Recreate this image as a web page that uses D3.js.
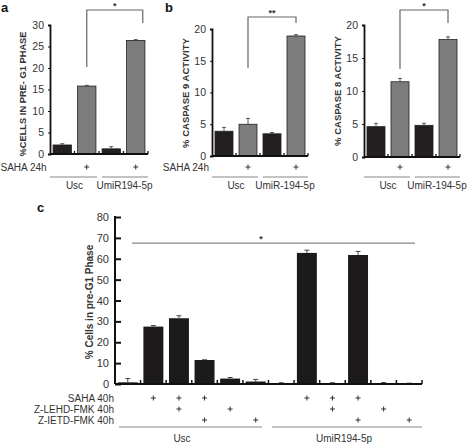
<!DOCTYPE html>
<html><head><meta charset="utf-8">
<script src="https://cdn.jsdelivr.net/npm/d3@7"></script>
<style>body{margin:0;background:#fff}svg{display:block}text{font-family:"Liberation Sans",Arial,sans-serif}</style>
</head><body><svg id="c" width="474" height="445"></svg>
<script>
// ---- data ----
const groupsAB = ["Usc", "Usc", "UmiR", "UmiR"];
const sahaFlags = ["", "+", "", "+"];
const aValues = [2.1, 15.8, 1.2, 26.4];
const aErr = [0.3, 0.15, 0.5, 0.2];
const bValues = [3.9, 5.0, 3.5, 18.9];
const bErr = [0.6, 0.9, 0.2, 0.2];
const c8Values = [4.6, 11.4, 4.8, 17.8];
const c8Err = [0.5, 0.5, 0.3, 0.4];
const aTicks = [0, 5, 10, 15, 20, 25, 30];
const bTicks = [0, 5, 10, 15, 20];

const cCats = ["u1","u2","u3","u4","u5","u6","m1","m2","m3","m4","m5","m6"];
const cValues = [0.8, 27.5, 31.5, 11.5, 2.6, 1.2, 0.2, 62.8, 0.3, 61.8, 0.3, 0.2];
const cErr = [1.8, 0.5, 1.2, 0.1, 0.5, 1.0, 0.4, 1.3, 0.3, 1.7, 0.4, 0.2];
const cSaha = ["", "+", "+", "+", "", "", "", "+", "+", "+", "", ""];
const cLehd = ["", "", "+", "", "+", "", "", "", "+", "", "+", ""];
const cIetd = ["", "", "", "+", "", "+", "", "", "", "+", "", "+"];
const cTicks = [0, 10, 20, 30, 40, 50, 60, 70, 80];

const svg = d3.select("#c");
const FONT = '"Liberation Sans",Arial,sans-serif';

function txt(g, x, y, s, opt = {}) {
  return g.append("text").attr("x", x).attr("y", y).text(s)
    .attr("font-size", opt.size || 10)
    .attr("font-weight", opt.bold ? "bold" : "normal")
    .attr("text-anchor", opt.anchor || "middle")
    .attr("fill", opt.fill || "#222");
}
function plus(g, cx, cy) {
  g.append("path").attr("d", `M${cx - 2.5},${cy}H${cx + 2.5}M${cx},${cy - 2.5}V${cy + 2.5}`)
    .attr("stroke", "#333").attr("stroke-width", 1).attr("fill", "none");
}

function smallPanel(cfg) {
  const g = svg.append("g");
  const x = d3.scaleBand().domain(d3.range(4)).range([cfg.x0, cfg.x1]).paddingInner(0.25).paddingOuter(0.125);
  const y = d3.scaleLinear().domain([0, cfg.max]).range([cfg.yb, cfg.yt]);
  const step = x.step();
  g.selectAll("rect.bar").data(cfg.values).join("rect")
    .attr("x", (d, i) => x(i)).attr("width", x.bandwidth())
    .attr("y", d => y(d)).attr("height", d => y(0) - y(d))
    .attr("fill", (d, i) => i % 2 ? "#7c7c7c" : "#231f20")
    .attr("stroke", "#222").attr("stroke-width", 0.8);
  cfg.values.forEach((v, i) => {
    const cx = x(i) + x.bandwidth() / 2, e = cfg.err[i];
    g.append("line").attr("x1", cx).attr("x2", cx).attr("y1", y(v)).attr("y2", y(v + e)).attr("stroke", "#333").attr("stroke-width", 0.8);
    g.append("line").attr("x1", cx - 2).attr("x2", cx + 2).attr("y1", y(v + e)).attr("y2", y(v + e)).attr("stroke", "#333").attr("stroke-width", 0.8);
  });
  const ya = g.append("g").attr("transform", `translate(${cfg.x0},0)`)
    .call(d3.axisLeft(y).tickValues(cfg.ticks).tickSize(2).tickPadding(4));
  ya.select(".domain").attr("stroke", "#111").attr("stroke-width", 1.8);
  ya.selectAll(".tick line").attr("stroke", "#111");
  ya.selectAll(".tick text").attr("font-size", 10.5).attr("font-family", FONT).attr("fill", "#333");
  g.append("line").attr("x1", cfg.x0).attr("x2", cfg.x1).attr("y1", y(0)).attr("y2", y(0)).attr("stroke", "#111").attr("stroke-width", 1.8);
  d3.range(1, 5).forEach(i => {
    const bx = cfg.x0 + step * i;
    g.append("line").attr("x1", bx).attr("x2", bx).attr("y1", y(0)).attr("y2", y(0) - 3).attr("stroke", "#111").attr("stroke-width", 1.3);
  });
  txt(g, 0, 0, cfg.ylabel, {size: cfg.ylSize || 9, bold: true, fill: "#333"})
    .attr("transform", `translate(${cfg.ylx},${cfg.yly}) rotate(-90)`);
  if (cfg.rowLabel) txt(g, cfg.rowX, 170.5, cfg.rowLabel, {anchor: cfg.rowAnchor, size: 10, fill: "#333"});
  sahaFlags.forEach((f, i) => { if (f) plus(g, x(i) + x.bandwidth() / 2, 167); });
  const half = (cfg.x1 - cfg.x0) / 2;
  g.append("line").attr("x1", cfg.x0).attr("x2", cfg.x0 + half - 2).attr("y1", 177).attr("y2", 177).attr("stroke", "#888").attr("stroke-width", 1.2);
  g.append("line").attr("x1", cfg.x0 + half + 3).attr("x2", cfg.x1).attr("y1", 177).attr("y2", 177).attr("stroke", "#888").attr("stroke-width", 1.2);
  txt(g, cfg.x0 + half / 2, 189, "Usc", {size: 10, fill: "#333"});
  txt(g, cfg.x0 + half * 1.5 + 1, 189, cfg.group2, {size: 10, fill: "#333"});
  const lx = x(1) + x.bandwidth() / 2, rx = x(3) + x.bandwidth() / 2 + (cfg.rOff || 0);
  g.append("path").attr("d", `M${lx},${cfg.bl}V${cfg.bt}H${rx}V${cfg.br}`)
    .attr("fill", "none").attr("stroke", "#666").attr("stroke-width", 1.2);
  txt(g, (lx + rx) / 2, cfg.bt - 1, cfg.star, {size: 9, bold: true, fill: "#333"});
  if (cfg.letter) txt(g, cfg.lx, cfg.ly, cfg.letter, {size: 13, bold: true, anchor: "start", fill: "#111"});
}

smallPanel({x0: 50, x1: 148, yb: 154, yt: 25, max: 30, values: aValues, err: aErr, ticks: aTicks,
  ylabel: "%CELLS IN PRE- G1 PHASE", ylx: 26, yly: 94, ylSize: 9.3, rowLabel: "SAHA 24h", rowX: 0.5, rowAnchor: "start", group2: "UmiR194-5p",
  bl: 67, bt: 10, br: 23, rOff: 7, star: "*", letter: "a", lx: 1, ly: 12});
smallPanel({x0: 212, x1: 308, yb: 156, yt: 29, max: 20, values: bValues, err: bErr, ticks: bTicks,
  ylabel: "% CASPASE  9 ACTIVITY", ylx: 189, yly: 93, ylSize: 9.5, rowLabel: "SAHA 24h", rowX: 209, rowAnchor: "end", group2: "UmiR-194-5p",
  bl: 68, bt: 17, br: 23, star: "**", letter: "b", lx: 165, ly: 12});
smallPanel({x0: 364, x1: 460, yb: 157, yt: 25, max: 20, values: c8Values, err: c8Err, ticks: bTicks,
  ylabel: "% CASPASE  8 ACTIVITY", ylx: 341, yly: 91, ylSize: 9.5, rowLabel: null, group2: "UmiR-194-5p",
  bl: 69, bt: 10, br: 23, star: "*", letter: null});

// ---- panel c ----
(function () {
  const g = svg.append("g");
  const x0 = 115, x1 = 422;
  const x = d3.scaleBand().domain(cCats).range([x0, x1]).paddingInner(0.22).paddingOuter(0.11);
  const y = d3.scaleLinear().domain([0, 80]).range([384, 217]);
  const step = x.step();
  g.selectAll("rect.cbar").data(cValues).join("rect")
    .attr("x", (d, i) => x(cCats[i])).attr("width", x.bandwidth())
    .attr("y", d => y(d)).attr("height", d => y(0) - y(d))
    .attr("fill", "#1c1a1a");
  cValues.forEach((v, i) => {
    const cx = x(cCats[i]) + x.bandwidth() / 2, e = cErr[i];
    g.append("line").attr("x1", cx).attr("x2", cx).attr("y1", y(v)).attr("y2", y(v + e)).attr("stroke", "#333").attr("stroke-width", 0.9);
    g.append("line").attr("x1", cx - 2.5).attr("x2", cx + 2.5).attr("y1", y(v + e)).attr("y2", y(v + e)).attr("stroke", "#333").attr("stroke-width", 0.9);
  });
  const ya = g.append("g").attr("transform", `translate(${x0},0)`)
    .call(d3.axisRight(y).tickValues(cTicks).tickSize(6).tickFormat(""));
  ya.select(".domain").remove();
  ya.selectAll(".tick line").attr("stroke", "#111").attr("stroke-width", 2);
  g.append("line").attr("x1", x0).attr("x2", x0).attr("y1", y(0)).attr("y2", y(80) - 1).attr("stroke", "#111").attr("stroke-width", 2);
  cTicks.forEach(t => txt(g, x0 - 6, y(t) + 4, t, {anchor: "end", size: 11, fill: "#333"}));
  g.append("line").attr("x1", x0).attr("x2", x1).attr("y1", y(0)).attr("y2", y(0)).attr("stroke", "#111").attr("stroke-width", 2);
  d3.range(1, 13).forEach(i => {
    const bx = x0 + step * i;
    g.append("line").attr("x1", bx).attr("x2", bx).attr("y1", y(0)).attr("y2", y(0) - 4).attr("stroke", "#111").attr("stroke-width", 1.5);
  });
  txt(g, 0, 0, "% Cells in pre-G1 Phase", {size: 10, bold: true, fill: "#333"})
    .attr("transform", `translate(93,302) rotate(-90)`);
  g.append("line").attr("x1", 132).attr("x2", 415).attr("y1", y(67.5)).attr("y2", y(67.5)).attr("stroke", "#888").attr("stroke-width", 1.2);
  txt(g, 261, y(67.5) - 1, "*", {size: 9, bold: true, fill: "#333"});
  const rows = [["SAHA 40h", cSaha, 398], ["Z-LEHD-FMK 40h", cLehd, 409], ["Z-IETD-FMK 40h", cIetd, 420]];
  rows.forEach(([lab, flags, yy]) => {
    txt(g, 114, yy + 3.5, lab, {anchor: "end", size: 10, fill: "#333"});
    flags.forEach((f, i) => { if (f) plus(g, x(cCats[i]) + x.bandwidth() / 2, yy); });
  });
  g.append("line").attr("x1", 119).attr("x2", 262).attr("y1", 427).attr("y2", 427).attr("stroke", "#888").attr("stroke-width", 1.2);
  g.append("line").attr("x1", 272).attr("x2", 422).attr("y1", 427).attr("y2", 427).attr("stroke", "#888").attr("stroke-width", 1.2);
  txt(g, 182, 442, "Usc", {size: 10, fill: "#333"});
  txt(g, 344, 442, "UmiR194-5p", {size: 10, fill: "#333"});
  txt(g, 37, 212, "c", {size: 13, bold: true, anchor: "start", fill: "#111"});
})();
</script></body></html>
